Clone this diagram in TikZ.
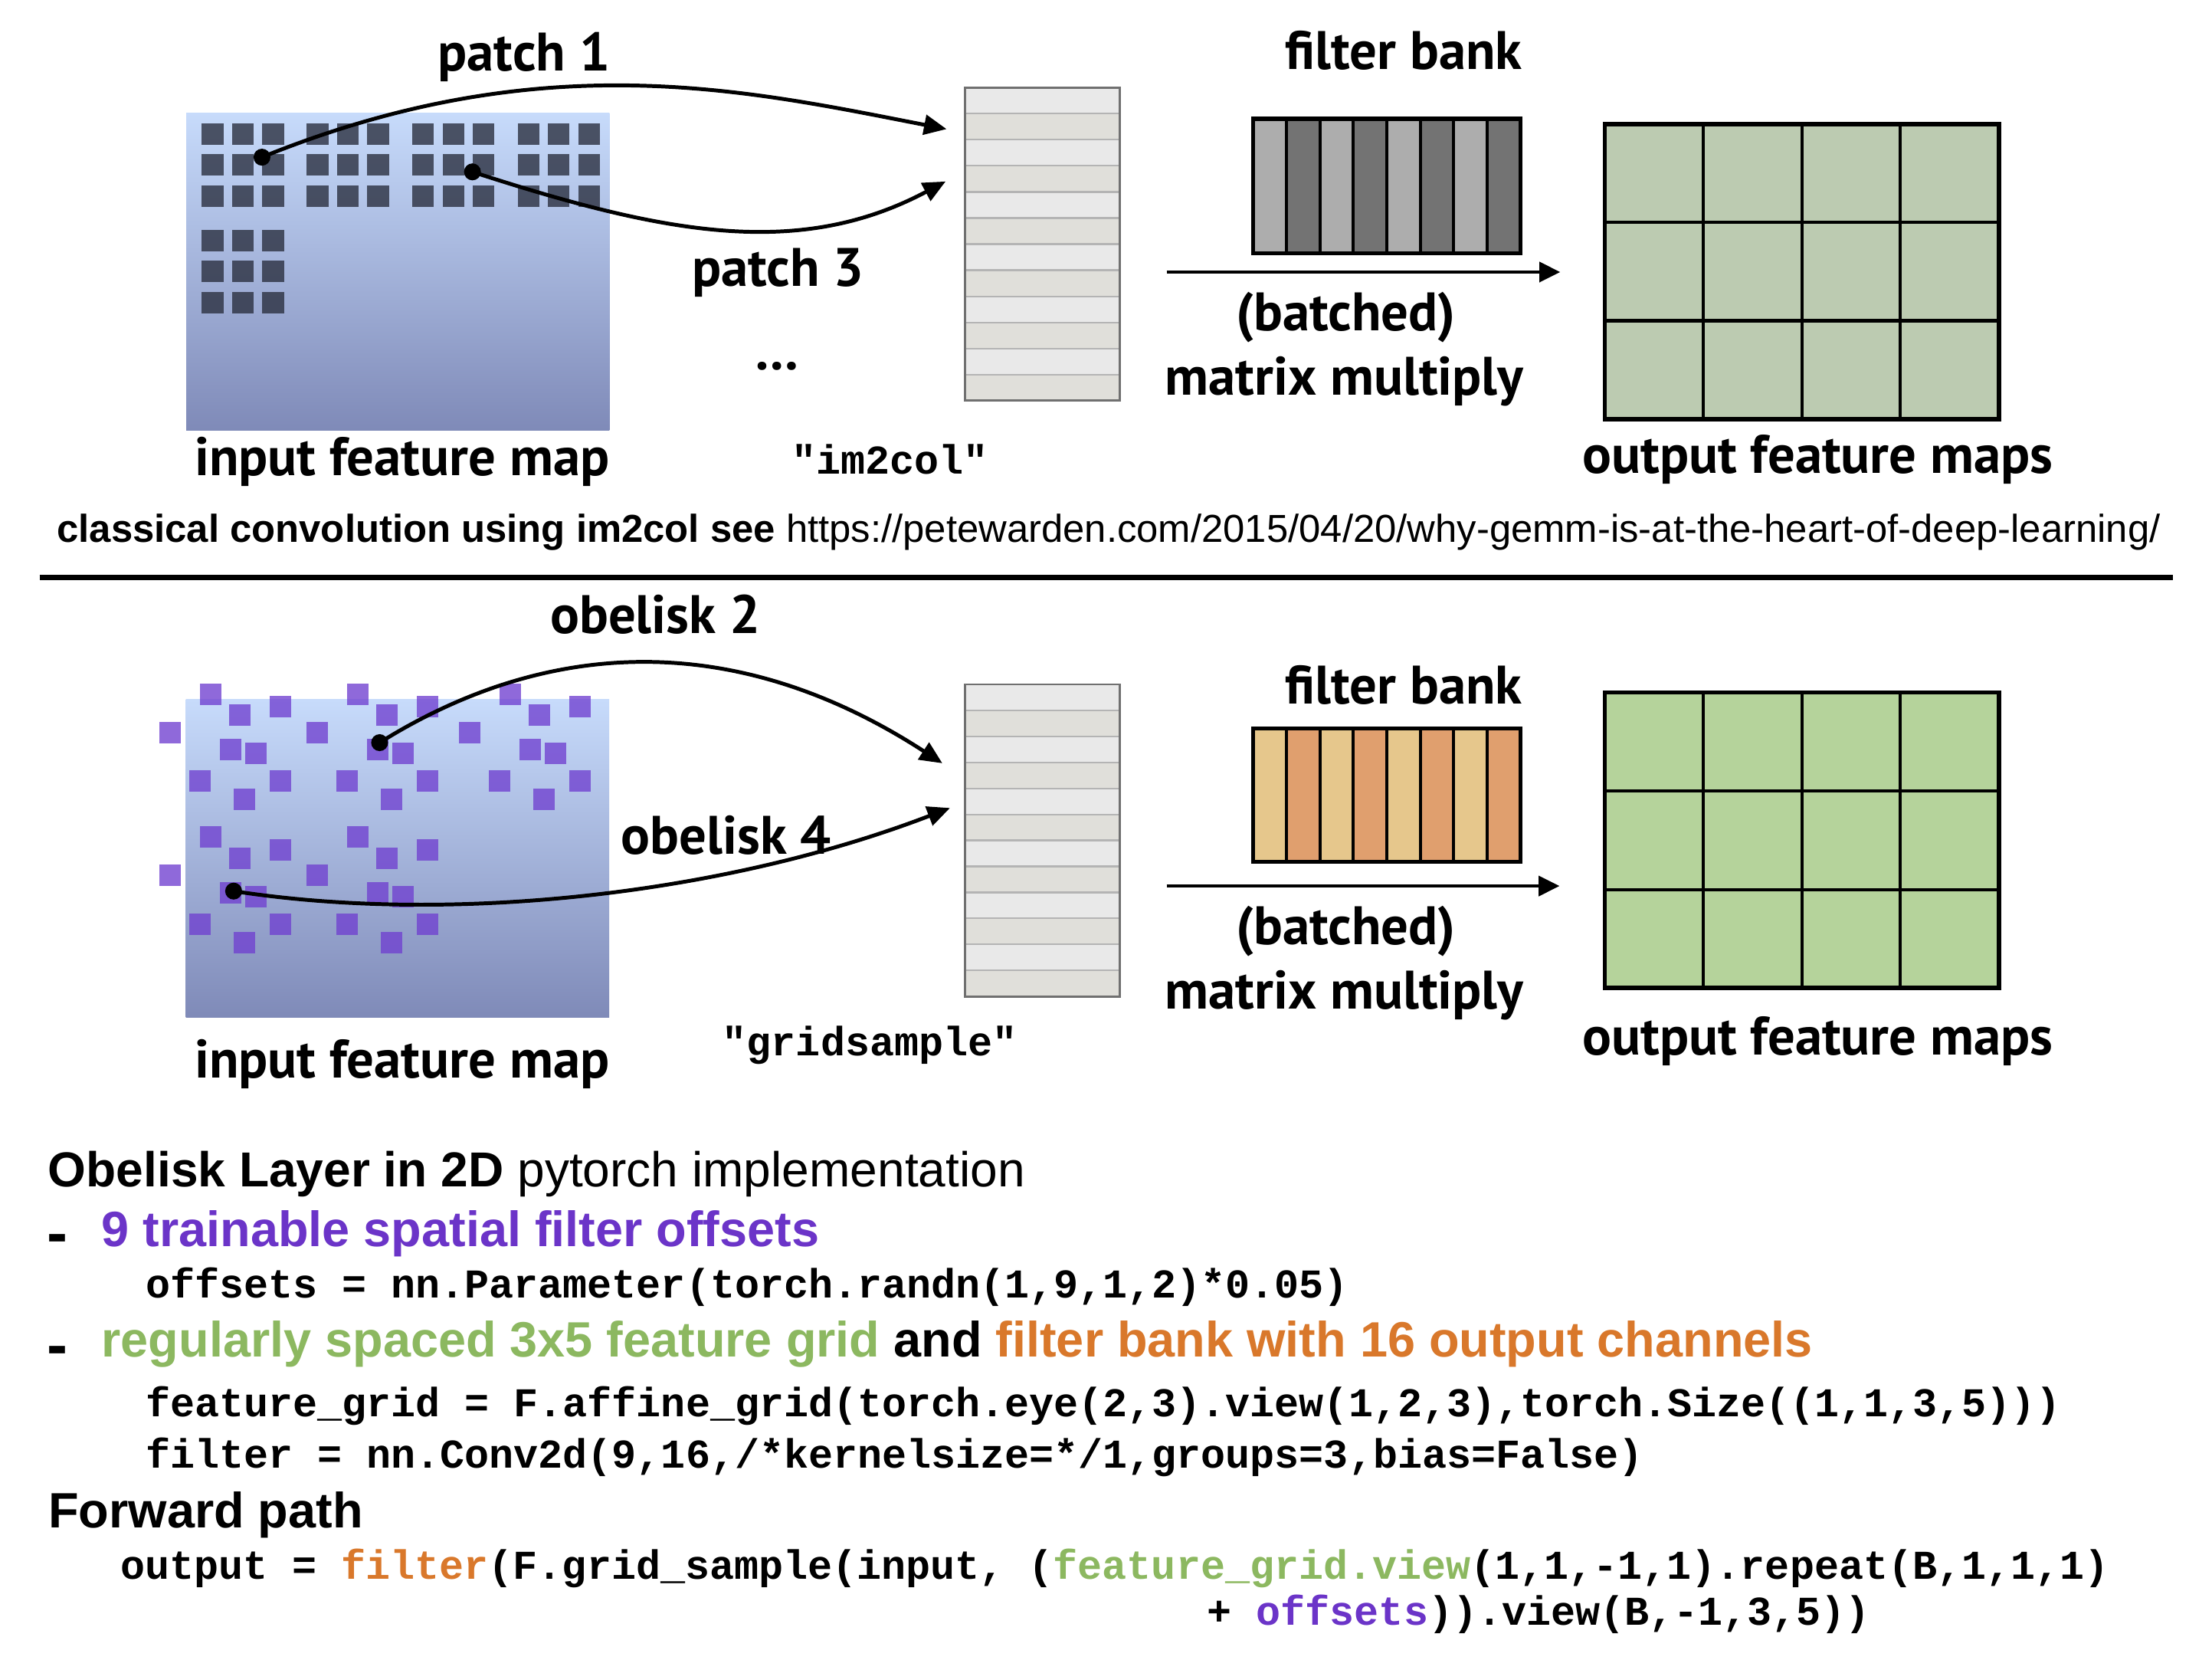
\documentclass[tikz,border=0pt]{standalone}
\usepackage{fontspec}
\setmainfont{Liberation Sans}
\setmonofont{Liberation Mono}
\newfontfamily\myr{PT Sans}
\usetikzlibrary{arrows.meta}
\definecolor{boxtop}{HTML}{C7DBFB}
\definecolor{boxbot}{HTML}{7F8AB8}
\definecolor{sqdark}{HTML}{2B3040}
\definecolor{obpurple}{HTML}{7040D0}
\definecolor{collight}{HTML}{E9E9E9}
\definecolor{coldark}{HTML}{E0DFDA}
\definecolor{colsep}{HTML}{B4B4B4}
\definecolor{colborder}{HTML}{707070}
\definecolor{fbl}{HTML}{ADADAD}
\definecolor{fbd}{HTML}{737373}
\definecolor{fol}{HTML}{E6C78C}
\definecolor{fod}{HTML}{E09F6E}
\definecolor{gridA}{HTML}{BCCBB1}
\definecolor{gridB}{HTML}{B5D39B}
\definecolor{txtpurple}{HTML}{6B34C8}
\definecolor{txtgreen}{HTML}{8CB860}
\definecolor{txtorange}{HTML}{D9782B}
\begin{document}
\begin{tikzpicture}[x=0.5pt,y=-0.5pt,
  lbl/.style={font=\myr\bfseries\fontsize{19.2}{22}\selectfont, inner sep=0, anchor=base},
  code/.style={font=\ttfamily\bfseries\fontsize{14.5}{17}\selectfont, inner sep=0, anchor=base west},
  hel/.style={font=\fontsize{17.4}{21}\selectfont, inner sep=0, anchor=base west},
  helb/.style={font=\bfseries\fontsize{17.6}{21}\selectfont, inner sep=0, anchor=base west},
  bul/.style={font=\bfseries\fontsize{22}{24}\selectfont, inner sep=0, anchor=base west},
  conn/.style={line width=1.35pt, -{Triangle[length=8pt,width=7pt]}},
  mainarrow/.style={line width=1.3pt, -{Triangle[length=7.4pt,width=7pt]}},
  dot/.style={circle, fill=black, inner sep=0, minimum size=6pt},
  inbox/.style={inner sep=0, outer sep=0, top color=boxtop, bottom color=boxbot, draw=none, minimum width=150pt, minimum height=112.5pt},
  sq/.style={fill=sqdark, fill opacity=0.8},
  ob/.style={fill=obpurple, fill opacity=0.78}
]
\useasboundingbox (0,0) rectangle (1568,1176);
\fill[white] (0,0) rectangle (1568,1176);

%% ================= TOP: im2col =================
\node[inbox] (inA) at (282,192.5) {};
\foreach \gx in {143,217.5,292.2,366.9}
  \foreach \cx in {0,21.5,42.9}
    \foreach \ry in {87.3,109.4,131.5}
      \fill[sq] (\gx+\cx,\ry) rectangle ++(15.4,15.2);
\foreach \cx in {0,21.5,42.9}
  \foreach \ry in {162.8,184.9,207.1}
    \fill[sq] (143+\cx,\ry) rectangle ++(15.4,15.2);

% column
\foreach \i in {0,...,11}{
  \pgfmathsetmacro{\yy}{62+\i*18.5}
  \ifodd\i \fill[coldark] (684,\yy) rectangle ++(110,18.5);
  \else \fill[collight] (684,\yy) rectangle ++(110,18.5); \fi
}
\foreach \i in {1,...,11}
  \draw[colsep, line width=0.6pt] (684,62+\i*18.5) -- ++(110,0);
\node[draw=colborder, line width=0.8pt, inner sep=0, minimum width=55pt, minimum height=111pt] (colA) at (739,173) {};

% filter bank
\foreach \i in {0,...,7}{
  \ifodd\i \fill[fbd] (888.2+\i*23.725,84.2) rectangle ++(23.725,95.1);
  \else \fill[fbl] (888.2+\i*23.725,84.2) rectangle ++(23.725,95.1); \fi
}
\foreach \i in {1,...,7}
  \draw[line width=1.1pt] (888.2+\i*23.725,84.2) -- ++(0,95.1);
\node[draw, line width=1.4pt, inner sep=0, minimum width=94.9pt, minimum height=47.55pt] (fbA) at (983.1,131.75) {};

% output grid
\node[fill=gridA, draw, line width=1.5pt, inner sep=0, minimum width=139.75pt, minimum height=104.5pt] (outA) at (1277.25,192.5) {};
\foreach \i in {1,2,3}
  \draw[line width=1.15pt] (1137.5+\i*69.875,88) -- ++(0,209);
\foreach \j in {1,2}
  \draw[line width=1.15pt] (1137.5,88+\j*69.67) -- ++(279.5,0);

% arrows
\node[dot] (p1) at (185.7,111.4) {};
\node[dot] (p3) at (334.9,121.8) {};
\coordinate (t1) at (671,91.5);
\coordinate (t3) at (670.3,128.6);
\draw[conn] (p1.center) .. controls +(199,-80.5) and +(-141.4,-27.5) .. (t1);
\draw[conn] (p3.center) .. controls +(137,44.5) and +(-103.6,55) .. (t3);
\coordinate (a1s) at (827,192.8);
\coordinate (a1e) at (1106,192.8);
\draw[mainarrow] (a1s) -- (a1e);

% labels
\node[lbl] (lp1) at (371.5,50) {patch 1};
\node[lbl] (lfb1) at (995,49) {filter bank};
\node[lbl] (lp3) at (551.5,203) {patch 3};
\node[lbl] (ldots) at (551,262) {…};
\node[lbl] (lin1) at (285,337) {input feature map};
\node[code, anchor=base] (lim) at (631,336) {"im2col"};
\node[lbl] (lbat1) at (954,234.4) {(batched)};
\node[lbl] (lmm1) at (953,280) {matrix multiply};
\node[lbl] (lout1) at (1288.5,335.4) {output feature maps};
\node[font=\fontsize{13.8}{16}\selectfont, inner sep=0, anchor=base west] (lcls) at (40,384)
  {\textbf{classical convolution using im2col see} https://petewarden.com/2015/04/20/why-gemm-is-at-the-heart-of-deep-learning/};

\coordinate (r1) at (28,409.2);
\coordinate (r2) at (1540.5,409.2);
\draw[line width=1.8pt] (r1) -- (r2);

%% ================= BOTTOM: obelisk =================
\node[inbox, minimum height=112.75pt] (inB) at (281.8,608.45) {};
\foreach \dx/\dy in {0/0,104.2/0,212.4/0,0/101.4,104.2/101.4}
  \foreach \px/\py in {141.7/484.3,162.5/499.2,191.1/493.4,113.1/511.5,155.9/523.8,174.0/526.3,134.3/545.9,191.1/545.9,165.6/559.1}
    \fill[ob] (\px+\dx,\py+\dy) rectangle ++(15.1,15.2);

% column
\foreach \i in {0,...,11}{
  \pgfmathsetmacro{\yy}{485+\i*18.43}
  \ifodd\i \fill[coldark] (684,\yy) rectangle ++(110,18.43);
  \else \fill[collight] (684,\yy) rectangle ++(110,18.43); \fi
}
\foreach \i in {1,...,11}
  \draw[colsep, line width=0.6pt] (684,485+\i*18.43) -- ++(110,0);
\node[draw=colborder, line width=0.8pt, inner sep=0, minimum width=55pt, minimum height=110.6pt] (colB) at (739,595.6) {};

% filter bank
\foreach \i in {0,...,7}{
  \ifodd\i \fill[fod] (888.2+\i*23.725,516.4) rectangle ++(23.725,94.3);
  \else \fill[fol] (888.2+\i*23.725,516.4) rectangle ++(23.725,94.3); \fi
}
\foreach \i in {1,...,7}
  \draw[line width=1.1pt] (888.2+\i*23.725,516.4) -- ++(0,94.3);
\node[draw, line width=1.4pt, inner sep=0, minimum width=94.9pt, minimum height=47.15pt] (fbB) at (983.1,563.55) {};

% output grid
\node[fill=gridB, draw, line width=1.5pt, inner sep=0, minimum width=139.75pt, minimum height=104.75pt] (outB) at (1277.25,595.45) {};
\foreach \i in {1,2,3}
  \draw[line width=1.15pt] (1137.5+\i*69.875,490.7) -- ++(0,209.5);
\foreach \j in {1,2}
  \draw[line width=1.15pt] (1137.5,490.7+\j*69.83) -- ++(279.5,0);

% arrows
\node[dot] (o2) at (269.1,526.3) {};
\node[dot] (o4) at (165.6,631.5) {};
\coordinate (t2) at (668,540.9);
\coordinate (t4) at (673.4,572.6);
\draw[conn] (o2.center) .. controls +(121.3,-75.8) and +(-144,-93.5) .. (t2);
\draw[conn] (o4.center) .. controls +(154.4,23.9) and +(-159.8,61.3) .. (t4);
\coordinate (a2s) at (827,627.9);
\coordinate (a2e) at (1105.5,627.9);
\draw[mainarrow] (a2s) -- (a2e);

% labels
\node[lbl] (lo2) at (464.5,449) {obelisk 2};
\node[lbl] (lo4) at (514.7,605.3) {obelisk 4};
\node[lbl] (lin2) at (285,764) {input feature map};
\node[lbl] (lfb2) at (995,499) {filter bank};
\node[code, anchor=base] (lgs) at (616.5,748) {"gridsample"};
\node[lbl] (lbat2) at (954,669.4) {(batched)};
\node[lbl] (lmm2) at (953,715) {matrix multiply};
\node[lbl] (lout2) at (1288.5,747.4) {output feature maps};

%% ================= TEXT =================
\node[hel] (h1) at (33.8,841) {\textbf{Obelisk Layer in 2D} pytorch implementation};
\node[bul] (b1) at (33,889) {-};
\node[helb, text=txtpurple] (h2) at (71.7,883.6) {9 trainable spatial filter offsets};
\node[code] (c1) at (102.9,919.8) {offsets = nn.Parameter(torch.randn(1,9,1,2)*0.05)};
\node[bul] (b2) at (33,968) {-};
\node[helb] (h3) at (71.7,961.4) {\textcolor{txtgreen}{regularly spaced 3x5 feature grid} and \textcolor{txtorange}{filter bank with 16 output channels}};
\node[code] (c2) at (102.9,1004) {feature\_grid = F.affine\_grid(torch.eye(2,3).view(1,2,3),torch.Size((1,1,3,5)))};
\node[code] (c3) at (102.9,1040.2) {filter = nn.Conv2d(9,16,/*kernelsize=*/1,groups=3,bias=False)};
\node[helb] (h4) at (34,1082.7) {Forward path};
\node[code] (c4) at (85,1119) {output = \textcolor{txtorange}{filter}(F.grid\_sample(input, (\textcolor{txtgreen}{feature\_grid.view}(1,1,-1,1).repeat(B,1,1,1)};
\node[code] (c5) at (855.4,1151.6) {+ \textcolor{txtpurple}{offsets})).view(B,-1,3,5))};
\end{tikzpicture}
\end{document}
